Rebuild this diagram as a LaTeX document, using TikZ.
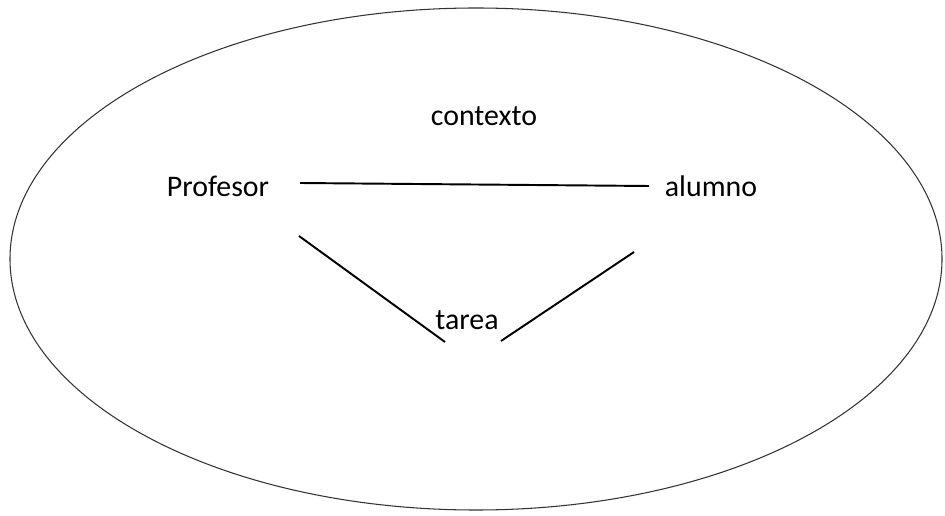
\documentclass[tikz,border=0pt]{standalone}
\usepackage{fontspec}
\setmainfont{Carlito}
\usetikzlibrary{positioning}

\begin{document}
\begin{tikzpicture}[
    x=0.02cm, y=-0.02cm,
    lbl/.style={font=\fontsize{17}{20}\selectfont, inner sep=0pt},
    lnk/.style={draw=black, line width=1.1pt}
  ]
    \useasboundingbox (0,0) rectangle (945,516);
    % context
    \draw[line width=0.6pt, draw=black!80] (476,259) ellipse [x radius=466, y radius=251];
    \node[lbl] (ctx)  at (484,116) {contexto};
    \node[lbl] (prof) at (218,186) {Profesor};
    \node[lbl] (alum) at (711,186) {alumno};
    \node[lbl] (tar)  at (467,320) {tarea};

    % line end points
    \coordinate (p1) at (300,183);
    \coordinate (a1) at (649,186);
    \coordinate (p2) at (299,236);
    \coordinate (t1) at (445,342);
    \coordinate (a2) at (634,252);
    \coordinate (t2) at (501,341);
    \draw[lnk] (p1) -- (a1);
    \draw[lnk] (p2) -- (t1);
    \draw[lnk] (a2) -- (t2);
\end{tikzpicture}
\end{document}
